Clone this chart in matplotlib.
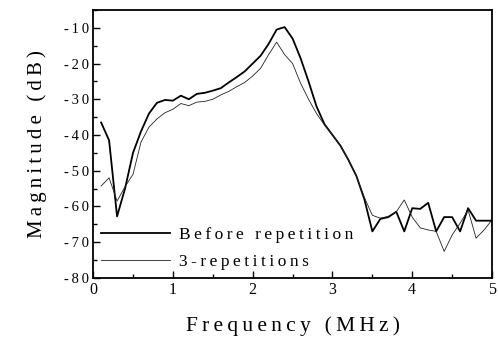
import matplotlib
matplotlib.use("Agg")
import matplotlib.pyplot as plt
from matplotlib.ticker import MultipleLocator

freq = [0.1, 0.2, 0.3, 0.4, 0.5, 0.6, 0.7, 0.8, 0.9, 1.0,
        1.1, 1.2, 1.3, 1.4, 1.5, 1.6, 1.7, 1.8, 1.9, 2.0,
        2.1, 2.2, 2.3, 2.4, 2.5, 2.6, 2.7, 2.8, 2.9, 3.0,
        3.1, 3.2, 3.3, 3.4, 3.5, 3.6, 3.7, 3.8, 3.9, 4.0,
        4.1, 4.2, 4.3, 4.4, 4.5, 4.6, 4.7, 4.8, 4.9, 5.0]

before = [-36.5, -41.5, -62.8, -55.0, -45.0, -39.0, -34.0, -31.0, -30.2, -30.4,
          -29.0, -30.0, -28.5, -28.2, -27.6, -26.9, -25.3, -23.8, -22.2, -20.0,
          -17.8, -14.5, -10.5, -9.8, -13.0, -18.5, -25.0, -32.0, -37.0, -40.0,
          -43.0, -47.0, -51.5, -58.0, -67.0, -63.5, -63.0, -61.5, -67.0, -60.5,
          -60.7, -59.0, -67.0, -63.0, -63.0, -67.0, -60.5, -64.0, -64.0, -64.0]

three_rep = [-54.3, -52.0, -58.5, -54.5, -51.0, -42.0, -37.8, -35.5, -33.8, -32.8,
             -31.2, -31.8, -30.8, -30.6, -30.0, -28.8, -27.8, -26.5, -25.3, -23.5,
             -21.3, -17.5, -14.0, -17.5, -20.0, -25.5, -30.0, -34.0, -37.2, -40.0,
             -43.0, -47.0, -51.5, -57.5, -62.5, -63.3, -62.8, -61.5, -58.2, -63.0,
             -66.0, -66.6, -67.0, -72.6, -68.0, -64.7, -61.0, -68.9, -66.6, -63.8]

xticks = [0, 1, 2, 3, 4, 5]
yticks = [-80, -70, -60, -50, -40, -30, -20, -10]

SP = "\u2009"

def spaced(s):
    return SP.join(s)

serif = ["Liberation Serif", "DejaVu Serif"]

fig = plt.figure(figsize=(4.98, 3.43), dpi=100)
ax = fig.add_axes([0.187, 0.19, 0.801, 0.781])

ax.plot(freq, before, color="black", lw=1.3, label=spaced("Before repetition"))
ax.plot(freq, three_rep, color="#222222", lw=0.6, label=spaced("3-repetitions"))

ax.set_xlim(0, 5)
ax.set_ylim(-80, -5)
ax.set_xticks(xticks)
ax.set_yticks(yticks)
ax.set_xticklabels([spaced(str(t)) for t in xticks], family=serif, fontsize=11.5)
ax.set_yticklabels([spaced(str(t)) for t in yticks], family=serif, fontsize=10.5)
ax.xaxis.set_minor_locator(MultipleLocator(0.5))
ax.yaxis.set_minor_locator(MultipleLocator(5))
ax.tick_params(which="both", direction="in", top=False, right=False, width=1)
ax.tick_params(which="major", length=5, pad=3)
ax.tick_params(which="minor", length=3)
for s in ax.spines.values():
    s.set_linewidth(1.3)

ax.set_xlabel(spaced("Frequency (MHz)"), family=serif, fontsize=15.5, labelpad=13)
ax.set_ylabel(spaced("Magnitude (dB)"), family=serif, fontsize=15, labelpad=12)

leg = ax.legend(loc="lower left", frameon=False, prop={"family": serif, "size": 12.5},
                handlelength=4.0, handletextpad=0.5, borderaxespad=0.1,
                labelspacing=0.6, borderpad=0.35)

fig.savefig("out.png", dpi=100)
